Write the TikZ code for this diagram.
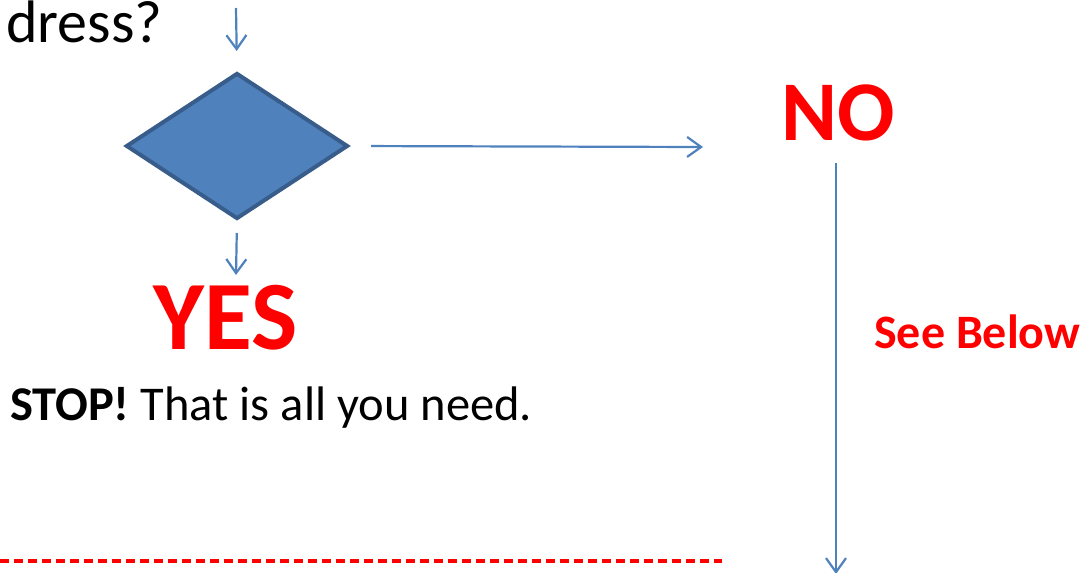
\documentclass[tikz,border=0pt]{standalone}
\usepackage{fontspec}
\setmainfont{Carlito}
\usetikzlibrary{shapes.geometric,arrows.meta}
\definecolor{flowblue}{RGB}{79,129,189}
\definecolor{flowedge}{RGB}{56,93,138}
\definecolor{alertred}{RGB}{255,0,0}
\tikzset{
  arr/.style={draw=flowblue, line width=2.2pt, -{Straight Barb[length=14pt,width=20pt,line width=2.2pt]}},
  decision/.style={diamond, draw=flowedge, fill=flowblue, line width=4pt, minimum width=222pt, minimum height=146pt, inner sep=0pt, aspect=1.5},
  txt/.style={inner sep=0pt, anchor=base west},
  bigred/.style={txt, text=alertred, font=\bfseries},
  sepline/.style={draw=alertred, line width=3.5pt, dash pattern=on 9pt off 5pt}
}
\begin{document}
\begin{tikzpicture}[x=1pt,y=-1pt]
\useasboundingbox (0,0) rectangle (1088,573);
\clip (0,0) rectangle (1088,573);
\node[txt, font=\fontsize{60}{72}\selectfont] (q) at (6,42) {dress?};
\node[decision] (d) at (237,146) {};
\coordinate (top) at (236,8);
\coordinate (yesarr) at (236,275);
\coordinate (noarr) at (703,147);
\coordinate (nostart) at (836,163);
\coordinate (noend) at (836,574);
\node[bigred, font=\bfseries\fontsize{98}{110}\selectfont] (yes) at (153,349) {YES};
\node[bigred, font=\bfseries\fontsize{85}{100}\selectfont] (no) at (781,140) {NO};
\node[bigred, font=\bfseries\fontsize{48}{56}\selectfont] (below) at (874,348) {See Below};
\node[txt, font=\fontsize{48.5}{56}\selectfont] (stop) at (10,420) {\textbf{STOP!} That is all you need.};
\draw[arr, shorten >=20pt] (top) -- (d.north);
\draw[arr, shorten <=12pt] (d.south) -- (yesarr);
\draw[arr, shorten <=21pt] (d.east) -- (noarr);
\draw[arr] (nostart) -- (noend);
\coordinate (sepL) at (0,561);
\coordinate (sepR) at (722,561);
\draw[sepline] (sepL) -- (sepR);
\end{tikzpicture}
\end{document}
